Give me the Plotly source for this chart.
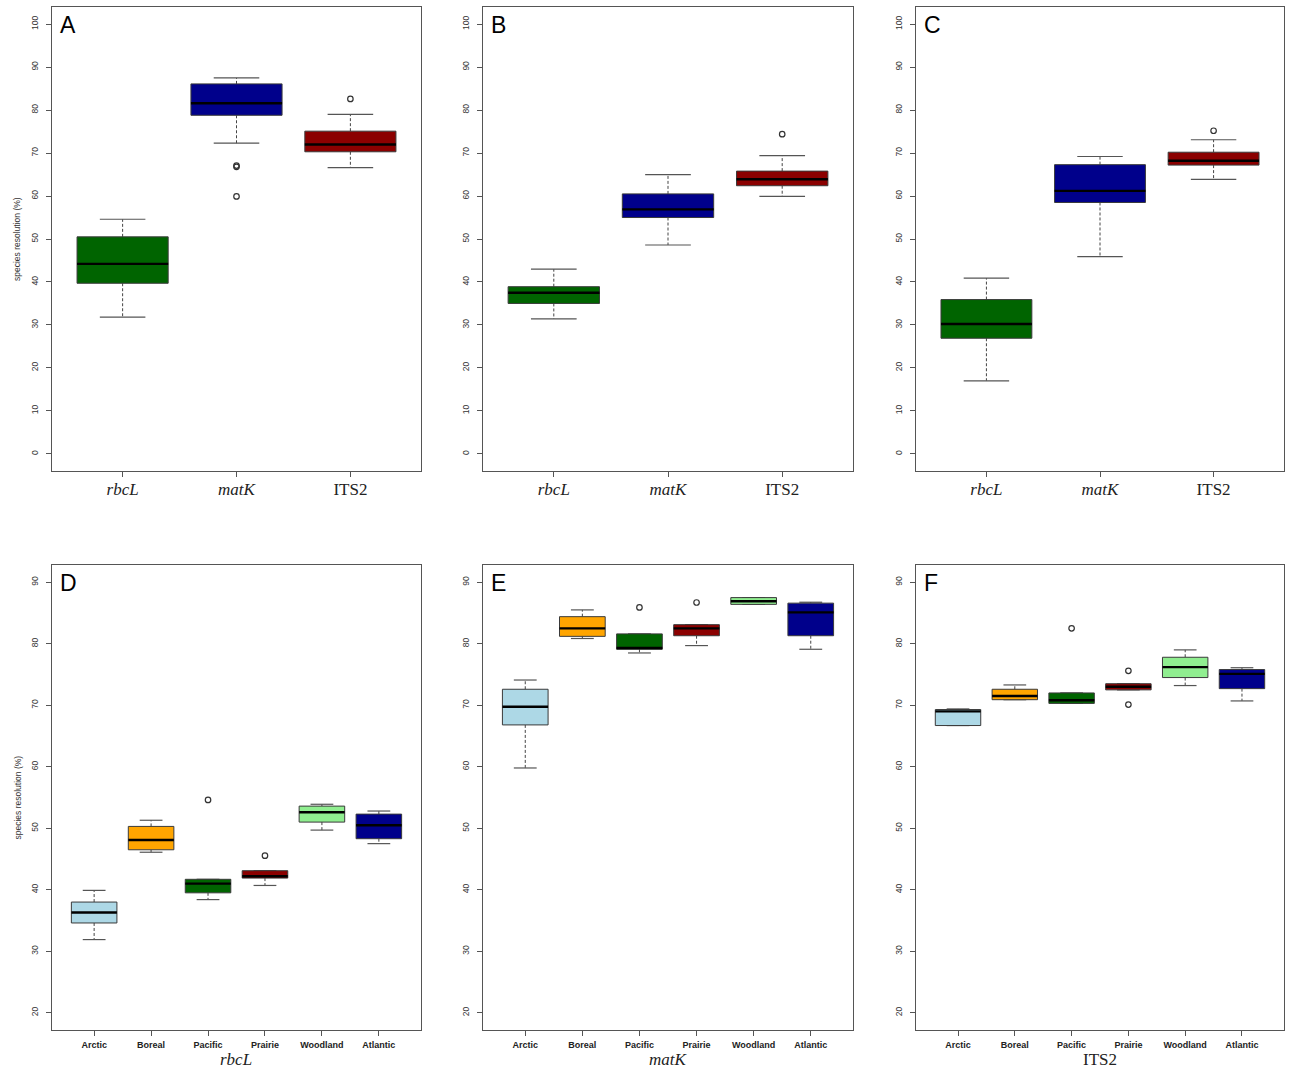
import plotly.graph_objects as go

# ---------------- data ----------------
genes = ["rbcL", "matK", "ITS2"]
gene_ticks = ["<i>rbcL</i>", "<i>matK</i>", "ITS2"]
regions = ["Arctic", "Boreal", "Pacific", "Prairie", "Woodland", "Atlantic"]

gene_colors = ["#006400", "#00008B", "#8B0000"]
region_colors = ["#ADD8E6", "#FFA500", "#006400", "#8B0000", "#90EE90", "#00008B"]

# Panel A
A_low = [31.8, 72.3, 66.6]
A_q1 = [39.7, 78.8, 70.3]
A_med = [44.2, 81.6, 72.0]
A_q3 = [50.5, 86.1, 75.1]
A_high = [54.6, 87.5, 79.0]
A_out = [[], [67.1, 66.8, 59.9], [82.6]]

# Panel B
B_low = [31.4, 48.6, 59.9]
B_q1 = [35.0, 55.0, 62.4]
B_med = [37.5, 56.9, 63.9]
B_q3 = [38.9, 60.5, 65.8]
B_high = [43.0, 65.0, 69.4]
B_out = [[], [], [74.4]]

# Panel C
C_low = [17.0, 45.9, 63.9]
C_q1 = [26.9, 58.5, 67.2]
C_med = [30.2, 61.2, 68.2]
C_q3 = [35.9, 67.3, 70.2]
C_high = [40.9, 69.2, 73.1]
C_out = [[], [], [75.2]]

# Panel D (rbcL by region)
D_low = [31.9, 46.1, 38.4, 40.7, 49.7, 47.5]
D_q1 = [34.6, 46.5, 39.5, 41.9, 51.0, 48.3]
D_med = [36.3, 48.1, 41.0, 42.2, 52.6, 50.5]
D_q3 = [38.0, 50.3, 41.7, 43.1, 53.6, 52.3]
D_high = [39.9, 51.3, 41.7, 43.1, 53.9, 52.8]
D_out = [[], [], [54.6], [45.55], [], []]

# Panel E (matK by region)
E_low = [59.8, 80.85, 78.5, 79.7, 86.4, 79.1]
E_q1 = [66.8, 81.2, 79.1, 81.3, 86.4, 81.3]
E_med = [69.75, 82.5, 79.3, 82.5, 86.9, 85.1]
E_q3 = [72.6, 84.4, 81.6, 83.1, 87.5, 86.6]
E_high = [74.1, 85.5, 81.6, 83.1, 87.5, 86.75]
E_out = [[], [], [85.9], [86.7], [], []]

# Panel F (ITS2 by region)
F_low = [66.7, 70.9, 70.3, 72.5, 73.2, 70.7]
F_q1 = [66.7, 70.9, 70.3, 72.5, 74.5, 72.7]
F_med = [69.0, 71.5, 70.8, 73.0, 76.2, 75.1]
F_q3 = [69.3, 72.6, 72.0, 73.5, 77.8, 75.8]
F_high = [69.4, 73.3, 72.0, 73.5, 79.0, 76.1]
F_out = [[], [], [82.5], [75.6, 70.1], [], []]

# ---------------- layout geometry (pixels) ----------------
W, H = 1290, 1070
col_px = [(52, 421), (483, 853), (916, 1284)]
row_px = [(7, 471), (565, 1030)]

BORDER = "#3a3a3a"
AXIS = "#555555"

fig = go.Figure()

panels = [
    ("A", 0, 0, genes, gene_ticks, gene_colors, A_low, A_q1, A_med, A_q3, A_high, A_out, None),
    ("B", 0, 1, genes, gene_ticks, gene_colors, B_low, B_q1, B_med, B_q3, B_high, B_out, None),
    ("C", 0, 2, genes, gene_ticks, gene_colors, C_low, C_q1, C_med, C_q3, C_high, C_out, None),
    ("D", 1, 0, regions, regions, region_colors, D_low, D_q1, D_med, D_q3, D_high, D_out, "<i>rbcL</i>"),
    ("E", 1, 1, regions, regions, region_colors, E_low, E_q1, E_med, E_q3, E_high, E_out, "<i>matK</i>"),
    ("F", 1, 2, regions, regions, region_colors, F_low, F_q1, F_med, F_q3, F_high, F_out, "ITS2"),
]

HALF = 0.4   # half box width (R boxwex 0.8)
CAP = 0.2    # half staple width

for idx, (letter, r, c, cats, ticks, colors, lo, q1, med, q3, hi, outs, xtitle) in enumerate(panels):
    n = idx + 1
    xa = "x" if n == 1 else f"x{n}"
    ya = "y" if n == 1 else f"y{n}"
    xkey = "xaxis" if n == 1 else f"xaxis{n}"
    ykey = "yaxis" if n == 1 else f"yaxis{n}"
    pos = list(range(1, len(cats) + 1))

    for i, p in enumerate(pos):
        # whiskers (dashed)
        fig.add_trace(go.Scatter(
            x=[p, p, None, p, p], y=[q3[i], hi[i], None, q1[i], lo[i]],
            mode="lines", line=dict(color="#444444", width=1, dash="3px,2px"),
            xaxis=xa, yaxis=ya, showlegend=False, hoverinfo="skip"))
        # staples
        fig.add_trace(go.Scatter(
            x=[p - CAP, p + CAP, None, p - CAP, p + CAP], y=[hi[i], hi[i], None, lo[i], lo[i]],
            mode="lines", line=dict(color="#555555", width=1.2),
            xaxis=xa, yaxis=ya, showlegend=False, hoverinfo="skip"))
        # box body
        fig.add_trace(go.Scatter(
            x=[p - HALF, p + HALF, p + HALF, p - HALF, p - HALF],
            y=[q1[i], q1[i], q3[i], q3[i], q1[i]],
            mode="lines", fill="toself", fillcolor=colors[i],
            line=dict(color=BORDER, width=1),
            xaxis=xa, yaxis=ya, showlegend=False, hoverinfo="skip"))
        # median
        fig.add_trace(go.Scatter(
            x=[p - HALF, p + HALF], y=[med[i], med[i]],
            mode="lines", line=dict(color="#000000", width=2.4),
            xaxis=xa, yaxis=ya, showlegend=False, hoverinfo="skip"))
        # outliers
        if outs[i]:
            fig.add_trace(go.Scatter(
                x=[p] * len(outs[i]), y=outs[i], mode="markers",
                marker=dict(symbol="circle-open", size=5.5, color="#333333", line=dict(width=1.2)),
                xaxis=xa, yaxis=ya, showlegend=False, hoverinfo="skip"))

    x0, x1 = col_px[c]
    y0, y1 = row_px[r]
    dom_x = [x0 / W, x1 / W]
    dom_y = [1 - y1 / H, 1 - y0 / H]
    ng = len(cats)
    ext = 0.04 * ng

    if r == 0:
        yrange = [-4, 104]
        ytickv = list(range(0, 101, 10))
        xfont = dict(family="Liberation Serif", size=17, color="#222222")
        xstand = -3
    else:
        yrange = [17.2, 92.8]
        ytickv = list(range(20, 91, 10))
        xfont = dict(family="Liberation Sans", size=9, color="#222222")
        ticks = [f"<b>{t}</b>" for t in ticks]
        xstand = 1

    fig.layout[xkey] = dict(
        domain=dom_x, anchor=ya, range=[0.5 - ext, ng + 0.5 + ext],
        tickmode="array", tickvals=pos, ticktext=ticks,
        showgrid=False, zeroline=False, showline=True, mirror=True,
        linecolor=AXIS, linewidth=1.2, ticks="outside", ticklen=5,
        tickcolor=AXIS, tickfont=xfont, ticklabelstandoff=xstand,
    )
    fig.layout[ykey] = dict(
        domain=dom_y, anchor=xa, range=yrange,
        tickmode="array", tickvals=ytickv, ticktext=[str(v) for v in ytickv],
        tickangle=-90, showgrid=False, zeroline=False, showline=True, mirror=True,
        linecolor=AXIS, linewidth=1.2, ticks="outside", ticklen=5, tickcolor=AXIS,
        tickfont=dict(family="Liberation Sans", size=8.5, color="#333333"),
        ticklabelstandoff=5,
    )

    # x-axis title (bottom row)
    if xtitle:
        fig.add_annotation(
            text=xtitle, xref="paper", yref="paper",
            x=(x0 + x1) / 2 / W, y=1 - 1059 / H, xanchor="center", yanchor="middle",
            showarrow=False, font=dict(family="Liberation Serif", size=17, color="#222222"))

    # y-axis title (left column)
    if c == 0:
        fig.add_annotation(
            text="species resolution (%)", xref="paper", yref="paper",
            x=17 / W, y=1 - (y0 + y1) / 2 / H, xanchor="center", yanchor="middle",
            textangle=-90, showarrow=False,
            font=dict(family="Liberation Sans", size=8.5, color="#333333"))

    fig.add_annotation(
        text=letter, xref="paper", yref="paper",
        x=(x0 + 6) / W, y=1 - (y0 + 3) / H, xanchor="left", yanchor="top",
        showarrow=False, font=dict(family="Liberation Sans", size=23, color="#000000"))

fig.update_layout(
    width=W, height=H, margin=dict(l=0, r=0, t=0, b=0),
    paper_bgcolor="white", plot_bgcolor="white", showlegend=False,
)

fig.write_html(
    "out.html",
    config={"displayModeBar": False},
    post_script="document.body.style.margin='0';document.body.style.overflow='hidden';",
)
